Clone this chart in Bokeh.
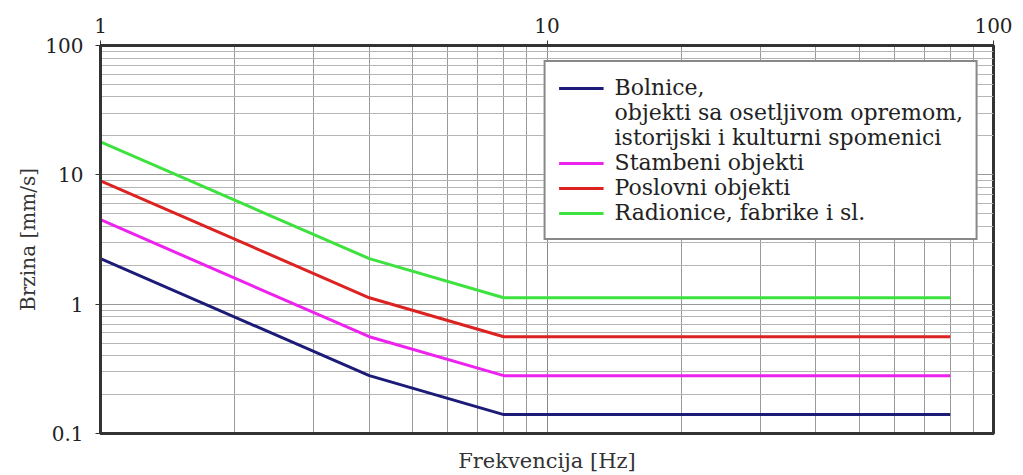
from bokeh.plotting import figure
from bokeh.models import LogAxis, FixedTicker, CustomJSTickFormatter, Legend, LegendItem
from bokeh.embed import file_html
from bokeh.resources import INLINE

# Frequency [Hz] break points and velocity limits [mm/s]
freq = [1, 4, 8, 80]
bolnice = [2.25, 0.28, 0.14, 0.14]
stambeni = [4.5, 0.56, 0.28, 0.28]
poslovni = [9.0, 1.12, 0.56, 0.56]
radionice = [18.0, 2.25, 1.12, 1.12]

x_ticks = [1, 10, 100]
x_minor = [2, 3, 4, 5, 6, 7, 8, 9, 20, 30, 40, 50, 60, 70, 80, 90]
y_ticks = [0.1, 1, 10, 100]
y_minor = [0.2, 0.3, 0.4, 0.5, 0.6, 0.7, 0.8, 0.9, 2, 3, 4, 5, 6, 7, 8, 9,
           20, 30, 40, 50, 60, 70, 80, 90]

FONT = "DejaVu Serif"

p = figure(width=1023, height=475, x_axis_type="log", y_axis_type="log",
           x_range=(1, 100), y_range=(0.1, 100), x_axis_location="above",
           output_backend="svg", toolbar_location=None,
           min_border_left=100, min_border_right=30, min_border_top=45,
           min_border_bottom=42)
p.background_fill_color = "white"
p.border_fill_color = "white"
p.outline_line_color = "#333333"
p.outline_line_width = 3

fmt = CustomJSTickFormatter(code="return tick.toString();")

xa = p.xaxis[0]
xa.ticker = FixedTicker(ticks=x_ticks, minor_ticks=x_minor)
xa.formatter = fmt
ya = p.yaxis[0]
ya.ticker = FixedTicker(ticks=y_ticks, minor_ticks=y_minor)
ya.formatter = fmt
ya.axis_label = "Brzina [mm/s]"

for ax in (xa, ya):
    ax.axis_line_color = "#333333"
    ax.axis_line_width = 3
    ax.major_tick_out = 5
    ax.major_tick_in = 0
    ax.major_tick_line_color = "#333333"
    ax.minor_tick_out = 0
    ax.minor_tick_in = 0
    ax.major_label_text_font = FONT
    ax.major_label_text_font_size = "20px"
    ax.major_label_text_color = "#222222"
    ax.major_label_standoff = 8
    ax.axis_label_text_font = FONT
    ax.axis_label_text_font_size = "20px"
    ax.axis_label_text_font_style = "normal"
    ax.axis_label_text_color = "#333333"
ya.major_label_standoff = 12
ya.axis_label_standoff = 2

bottom = LogAxis(ticker=FixedTicker(ticks=[]), axis_label="Frekvencija [Hz]",
                 axis_line_color="#333333", axis_line_width=3,
                 axis_label_text_font=FONT, axis_label_text_font_size="21px",
                 axis_label_text_font_style="normal", axis_label_text_color="#333333",
                 axis_label_standoff=15)
p.add_layout(bottom, "below")

p.xgrid.grid_line_color = "#888888"
p.xgrid.minor_grid_line_color = "#999999"
p.ygrid.grid_line_color = "#999999"
p.ygrid.minor_grid_line_color = "#b5b5b5"

r_b = p.line(freq, bolnice, line_color="#1c1c78", line_width=3)
r_s = p.line(freq, stambeni, line_color="#ee22ee", line_width=3)
r_p = p.line(freq, poslovni, line_color="#dd2222", line_width=3)
r_r = p.line(freq, radionice, line_color="#3ee23e", line_width=3)
d1 = p.line([], [], line_alpha=0)
d2 = p.line([], [], line_alpha=0)

legend = Legend(items=[
    LegendItem(label="Bolnice,", renderers=[r_b]),
    LegendItem(label="objekti sa osetljivom opremom,", renderers=[d1]),
    LegendItem(label="istorijski i kulturni spomenici", renderers=[d2]),
    LegendItem(label="Stambeni objekti", renderers=[r_s]),
    LegendItem(label="Poslovni objekti", renderers=[r_p]),
    LegendItem(label="Radionice, fabrike i sl.", renderers=[r_r]),
], location="top_right", margin=15, padding=13, spacing=0,
    label_height=22, glyph_width=45, label_standoff=11,
    label_text_font=FONT, label_text_font_size="22px", label_text_color="#222222",
    border_line_color="#111111", border_line_width=2,
    background_fill_color="white", background_fill_alpha=1)
p.add_layout(legend)

open("out.html", "w").write(file_html(p, INLINE))
